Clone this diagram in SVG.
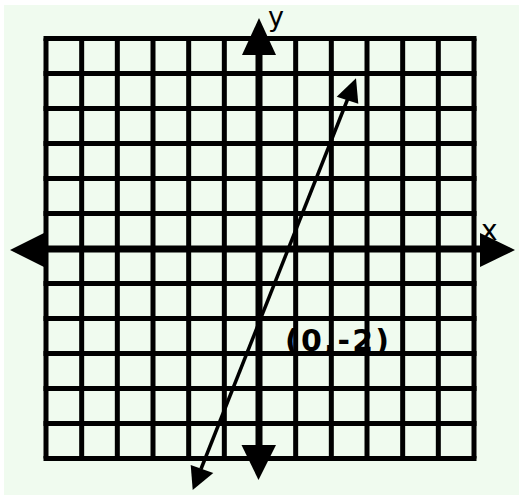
<svg xmlns="http://www.w3.org/2000/svg" width="519" height="495" viewBox="0 0 519 495">
  <style>
    .grid line { stroke: #000; stroke-width: 5; }
    .axis { stroke: #000; stroke-width: 7; }
    .head { fill: #000; }
    .lbl { font-family: "DejaVu Sans", "Liberation Sans", sans-serif; fill: #000; }
  </style>
  <rect x="0" y="0" width="519" height="495" fill="#ffffff"/>
  <rect x="4" y="5" width="515" height="490" fill="#f0fbef"/>
  <g id="grid" class="grid">
    <line x1="46" y1="38.5" x2="46" y2="458.5"/>
    <line x1="81.67" y1="38.5" x2="81.67" y2="458.5"/>
    <line x1="117.33" y1="38.5" x2="117.33" y2="458.5"/>
    <line x1="153" y1="38.5" x2="153" y2="458.5"/>
    <line x1="188.67" y1="38.5" x2="188.67" y2="458.5"/>
    <line x1="224.33" y1="38.5" x2="224.33" y2="458.5"/>
    <line x1="295.67" y1="38.5" x2="295.67" y2="458.5"/>
    <line x1="331.33" y1="38.5" x2="331.33" y2="458.5"/>
    <line x1="367" y1="38.5" x2="367" y2="458.5"/>
    <line x1="402.67" y1="38.5" x2="402.67" y2="458.5"/>
    <line x1="438.33" y1="38.5" x2="438.33" y2="458.5"/>
    <line x1="474" y1="38.5" x2="474" y2="458.5"/>
    <line x1="43.5" y1="38.5" x2="476.5" y2="38.5"/>
    <line x1="43.5" y1="73.5" x2="476.5" y2="73.5"/>
    <line x1="43.5" y1="108.5" x2="476.5" y2="108.5"/>
    <line x1="43.5" y1="143.5" x2="476.5" y2="143.5"/>
    <line x1="43.5" y1="178.5" x2="476.5" y2="178.5"/>
    <line x1="43.5" y1="213.5" x2="476.5" y2="213.5"/>
    <line x1="43.5" y1="283.5" x2="476.5" y2="283.5"/>
    <line x1="43.5" y1="318.5" x2="476.5" y2="318.5"/>
    <line x1="43.5" y1="353.5" x2="476.5" y2="353.5"/>
    <line x1="43.5" y1="388.5" x2="476.5" y2="388.5"/>
    <line x1="43.5" y1="423.5" x2="476.5" y2="423.5"/>
    <line x1="43.5" y1="458.5" x2="476.5" y2="458.5"/>
  </g>
  <g id="labels">
    <text class="lbl" x="268" y="26" font-size="27">y</text>
    <text class="lbl" x="481" y="240" font-size="28">x</text>
    <text class="lbl" x="285" y="351" font-size="30" font-weight="bold" textLength="104" lengthAdjust="spacing">(0,-2)</text>
  </g>
  <g id="axes">
    <line class="axis" x1="44" y1="249" x2="481" y2="249"/>
    <line class="axis" x1="259" y1="54" x2="259" y2="446"/>
    <polygon class="head" points="10,250 44,233 44,267"/>
    <polygon class="head" points="515,250 480,233 480,267"/>
    <polygon class="head" points="259,18 242,55 276,55"/>
    <polygon class="head" points="258.5,480 241.5,445 276,445"/>
  </g>
  <g id="connectors">
    <line x1="201" y1="469" x2="347.5" y2="99.5" stroke="#000" stroke-width="3.5"/>
    <polygon class="head" points="356,78.3 336.7,96.7 358.3,103.8"/>
    <polygon class="head" points="192.7,490 190.7,465 213.3,473"/>
  </g>
</svg>
